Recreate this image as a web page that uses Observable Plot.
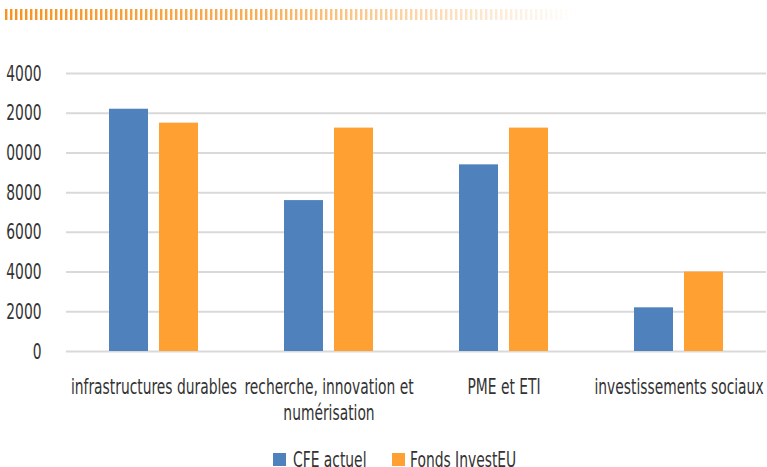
<!DOCTYPE html>
<html>
<head>
<meta charset="utf-8">
<script src="https://cdn.jsdelivr.net/npm/d3@7"></script>
<script src="https://cdn.jsdelivr.net/npm/@observablehq/plot@0.6"></script>
<style>
  html, body { margin: 0; padding: 0; background: #fff; }
  body { width: 767px; position: relative; overflow: hidden; font-family: 'Liberation Sans Narrow', 'DejaVu Sans Condensed', 'Liberation Sans', sans-serif; color: #333; }
  #deco { position: absolute; left: 5px; top: 9px; width: 570px; height: 11px;
    background:
      linear-gradient(to right, rgba(255,255,255,0) 0%, rgba(255,255,255,0.25) 45%, #fff 100%),
      repeating-linear-gradient(to right, #F7931E 0px, #F7931E 2px, #FCD3A4 2px, #FCD3A4 3px, transparent 3px, transparent 5px);
  }
  #legend { position: relative; height: 27px; font-size: 22px; line-height: 15px; }
  #legend .sw { position: absolute; top: 13px; width: 13px; height: 13px; }
  #legend .lb { position: absolute; top: 12px; transform: scaleX(0.70); transform-origin: left center; white-space: nowrap; }
</style>
</head>
<body>
<div id="deco"></div>
<div id="chart"></div>
<div id="legend"></div>
<script>
const categories = ["infrastructures durables", "recherche, innovation et numérisation", "PME et ETI", "investissements sociaux"];
const categoryLabels = ["infrastructures durables", "recherche, innovation et\nnumérisation", "PME et ETI", "investissements sociaux"];
const series = ["CFE actuel", "Fonds InvestEU"];
const cfeValues = [12200, 7600, 9400, 2200];
const investEUValues = [11500, 11250, 11250, 4000];
const tickValues = [0, 2000, 4000, 6000, 8000, 10000, 12000, 14000];
const tickLabels = ["0", "2000", "4000", "6000", "8000", "0000", "2000", "4000"];
const colors = ["#4F81BD", "#FFA032"];

const data = [];
categories.forEach((c, i) => {
  data.push({category: c, series: series[0], value: cfeValues[i]});
  data.push({category: c, series: series[1], value: investEUValues[i]});
});

const chart = Plot.plot({
  width: 767,
  height: 440,
  marginTop: 73,
  marginBottom: 89,
  marginLeft: 66,
  marginRight: 1,
  style: {fontFamily: "'Liberation Sans Narrow', 'DejaVu Sans Condensed', 'Liberation Sans', sans-serif", fontSize: "22px", color: "#333", background: "transparent"},
  fx: {domain: categories, padding: 0, label: null},
  x: {domain: series, paddingInner: 0.22, paddingOuter: 0.85, axis: null},
  y: {domain: [0, 14000], label: null},
  color: {domain: series, range: colors},
  marks: [
    Plot.ruleY(tickValues, {stroke: "#d9d9d9", strokeWidth: 2}),
    Plot.barY(data, {fx: "category", x: "series", y: "value", fill: "series", inset: 0}),
    Plot.axisY({ticks: tickValues, tickFormat: d => tickLabels[tickValues.indexOf(d)], tickSize: 0, tickPadding: 25, fontSize: 22, fill: "#333", label: null}),
    Plot.axisFx({anchor: "bottom", tickSize: 0, tickPadding: 24, fontSize: 22, lineHeight: 1.18, fill: "#333", label: null,
      tickFormat: d => categoryLabels[categories.indexOf(d)]})
  ]
});
chart.querySelectorAll("text").forEach(t => {
  const tr = t.getAttribute("transform") || "";
  t.setAttribute("transform", (tr + " scale(0.70,1)").trim());
});
document.getElementById("chart").appendChild(chart);

const legend = document.getElementById("legend");
const swLeft = [273, 392];
const lbLeft = [293, 410];
series.forEach((s, i) => {
  const sw = document.createElement("div");
  sw.className = "sw";
  sw.style.left = swLeft[i] + "px";
  sw.style.background = colors[i];
  const lb = document.createElement("div");
  lb.className = "lb";
  lb.style.left = lbLeft[i] + "px";
  lb.textContent = s;
  legend.appendChild(sw);
  legend.appendChild(lb);
});
</script>
</body>
</html>
